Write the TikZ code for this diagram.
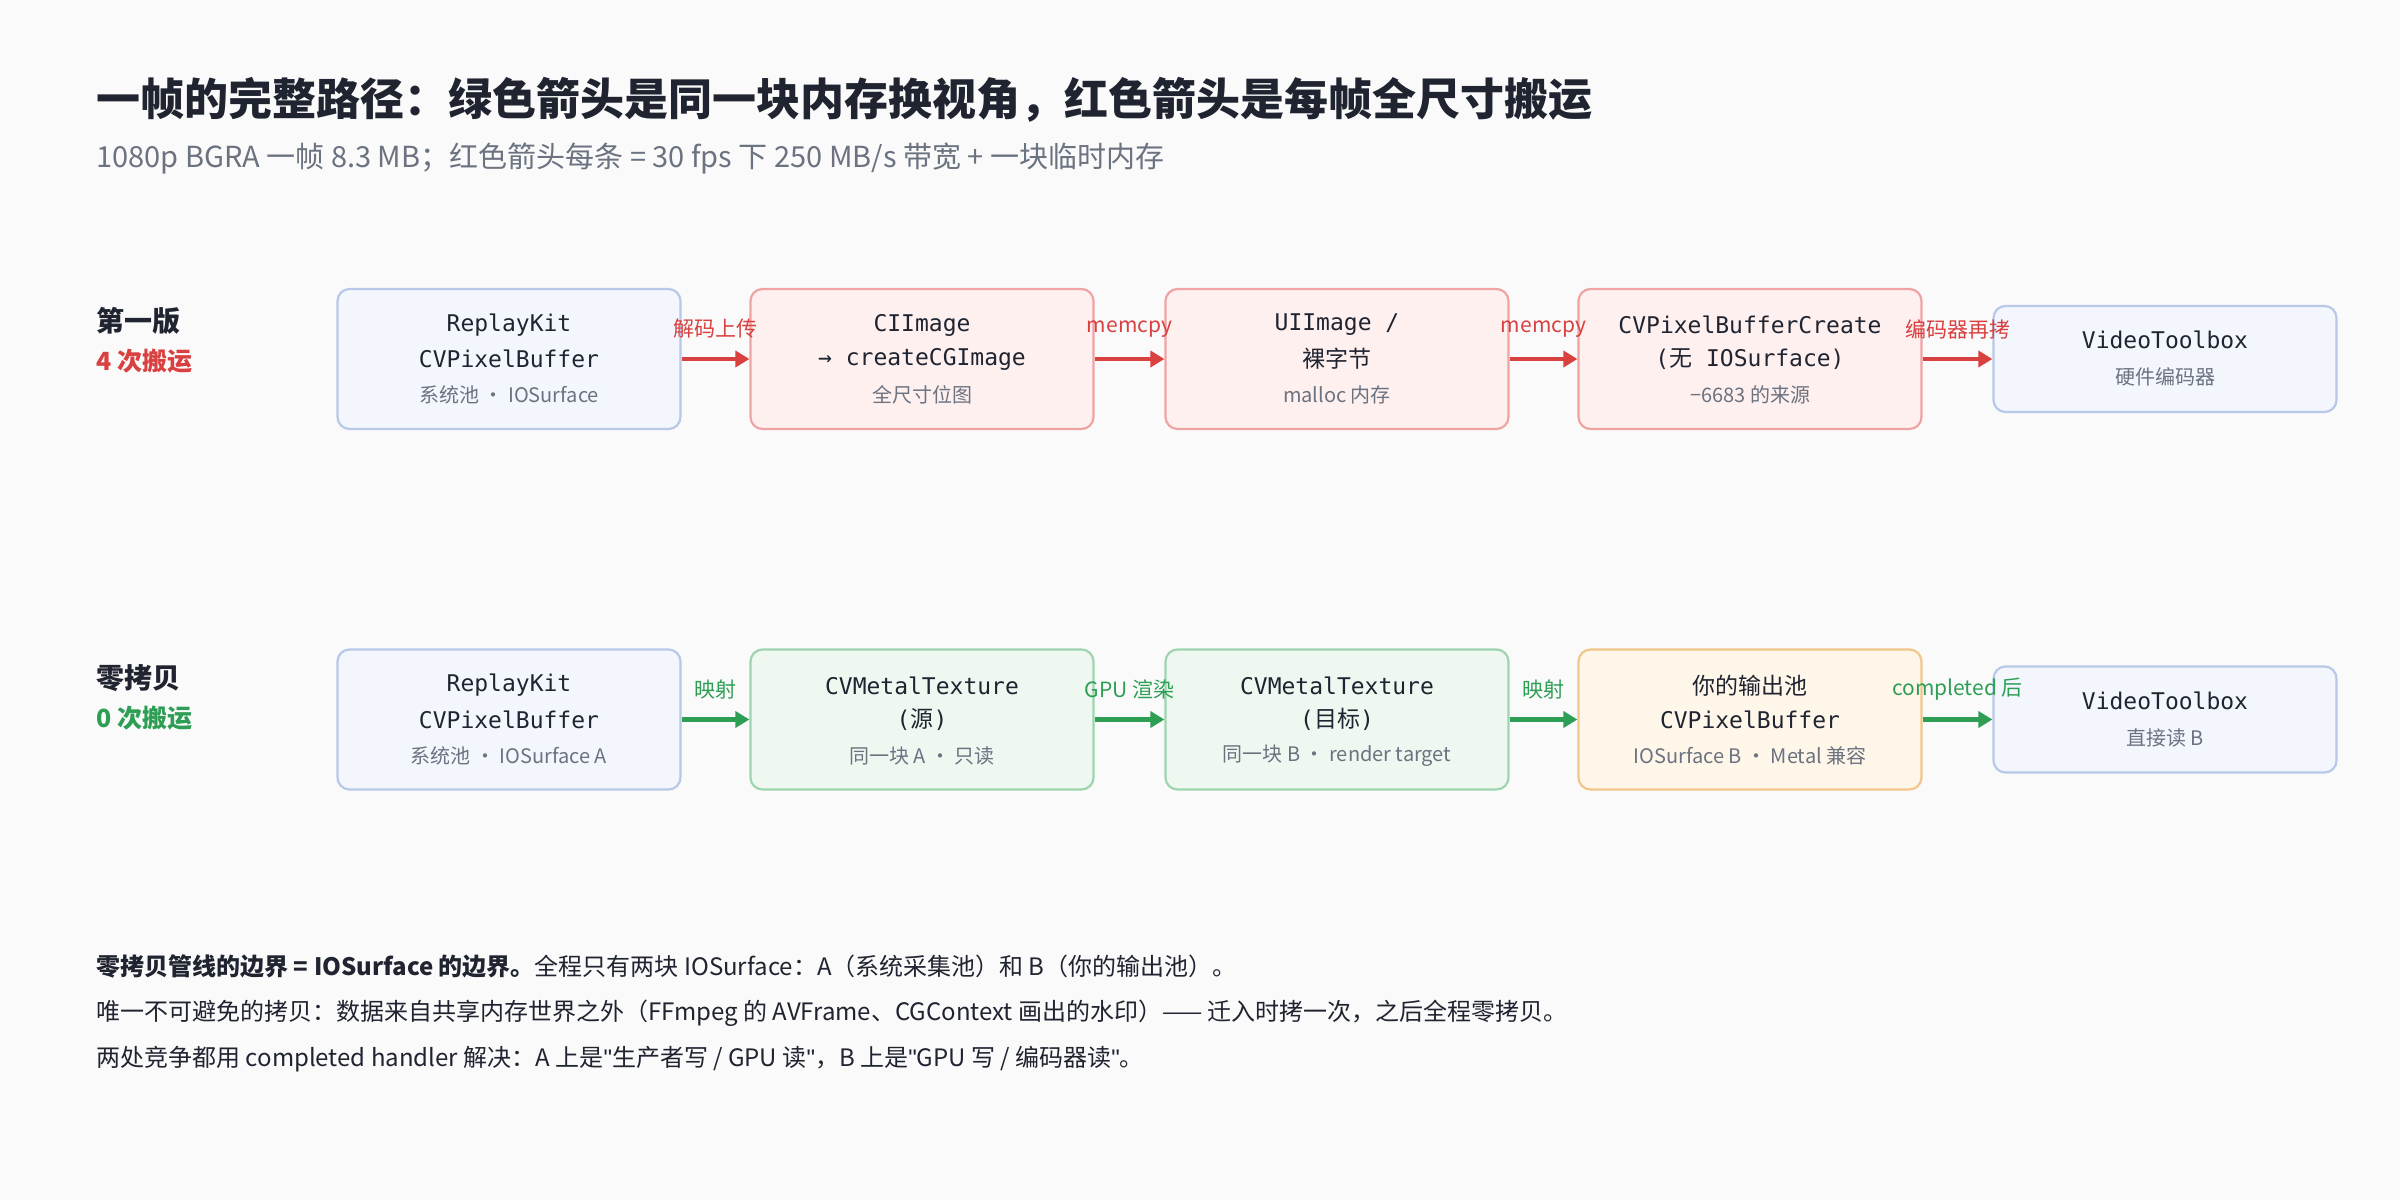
\documentclass[tikz,border=0pt]{standalone}
\usepackage{fontspec}
\setmainfont{Noto Sans CJK SC}
\newfontfamily\mono{DejaVu Sans Mono}
\newfontfamily\qfont{Liberation Sans}
\usetikzlibrary{calc,arrows.meta}
\definecolor{bg}{HTML}{FAFAFA}
\definecolor{ink}{HTML}{1F2430}
\definecolor{gry}{HTML}{6B7280}
\definecolor{bfill}{HTML}{F3F6FC}\definecolor{bline}{HTML}{B8C8E8}
\definecolor{rfill}{HTML}{FFF0F0}\definecolor{rline}{HTML}{F0A3A3}
\definecolor{gfill}{HTML}{EEF8F1}\definecolor{gline}{HTML}{9FD4B0}
\definecolor{ofill}{HTML}{FFF6EA}\definecolor{oline}{HTML}{F2C68A}
\definecolor{rarr}{HTML}{D94040}\definecolor{garr}{HTML}{2E9E55}
\newcommand\dq{{\qfont\char"22}}
\begin{document}
\begin{tikzpicture}[x=0.5pt,y=-0.5pt,
 box/.style={draw,rounded corners=6pt,line width=1.1pt,minimum width=171.5pt,minimum height=70pt,inner sep=0pt},
 short/.style={minimum height=53pt},
 bb/.style={box,fill=bfill,draw=bline},
 rb/.style={box,fill=rfill,draw=rline},
 gb/.style={box,fill=gfill,draw=gline},
 ob/.style={box,fill=ofill,draw=oline},
 mt/.style={text=ink,font=\mono\fontsize{11.5}{13}\selectfont,inner sep=0pt},
 st/.style={text=gry,font=\fontsize{10}{12}\selectfont,inner sep=0pt},
 ra/.style={draw=rarr,line width=2.2pt,-{Triangle[length=7pt,width=8pt]}},
 ga/.style={draw=garr,line width=2.2pt,-{Triangle[length=7pt,width=8pt]}},
 rl/.style={text=rarr,font=\fontsize{10.5}{12}\selectfont,inner sep=0pt},
 gl/.style={text=garr,font=\fontsize{10.5}{12}\selectfont,inner sep=0pt},
 tx/.style={anchor=west,inner sep=0pt,text=ink,font=\fontsize{12}{14}\selectfont}]
\fill[bg] (0,0) rectangle (2400,1200);
\useasboundingbox (0,0) rectangle (2400,1200);
\node[anchor=west,inner sep=0pt,text=ink,font=\bfseries\fontsize{22}{25}\selectfont] (title) at (96,100) {一帧的完整路径：绿色箭头是同一块内存换视角，红色箭头是每帧全尺寸搬运};
\node[anchor=west,inner sep=0pt,text=gry,font=\fontsize{14.5}{17}\selectfont] (sub) at (96,158) {1080p BGRA 一帧 8.3 MB；红色箭头每条 = 30 fps 下 250 MB/s 带宽 + 一块临时内存};
% row labels
\node[tx,font=\bfseries\fontsize{14}{16}\selectfont] (l1) at (96,321) {第一版};
\node[tx,text=rarr,font=\bfseries\fontsize{12.5}{14}\selectfont] (l1b) at (96,361) {4 次搬运};
\node[tx,font=\bfseries\fontsize{14}{16}\selectfont] (l2) at (96,678) {零拷贝};
\node[tx,text=garr,font=\bfseries\fontsize{12.5}{14}\selectfont] (l2b) at (96,718) {0 次搬运};
% row 1
\node[bb] (a1) at (509,359) {};
\node[rb] (a2) at (922,359) {};
\node[rb] (a3) at (1337,359) {};
\node[rb] (a4) at (1750,359) {};
\node[bb,short] (a5) at (2165,359) {};
\node[mt] (a1t) at ($(a1)+(0,-34)$) {ReplayKit};
\node[mt] (a1u) at ($(a1)+(0,0)$) {CVPixelBuffer};
\node[st] (a1s) at ($(a1)+(0,36)$) {系统池 · IOSurface};
\node[mt] (a2t) at ($(a2)+(0,-34)$) {CIImage};
\node[mt] (a2u) at ($(a2)+(0,0)$) {→ createCGImage};
\node[st] (a2s) at ($(a2)+(0,36)$) {全尺寸位图};
\node[mt] (a3t) at ($(a3)+(0,-34)$) {UIImage /};
\node[mt,font=\fontsize{11.5}{13}\selectfont] (a3u) at ($(a3)+(0,0)$) {裸字节};
\node[st] (a3s) at ($(a3)+(0,36)$) {malloc 内存};
\node[mt] (a4t) at ($(a4)+(0,-34)$) {CVPixelBufferCreate};
\node[mt] (a4u) at ($(a4)+(0,0)$) {({\fontsize{11.5}{13}\selectfont\rmfamily 无} IOSurface)};
\node[st] (a4s) at ($(a4)+(0,36)$) {−6683 的来源};
\node[mt] (a5t) at ($(a5)+(0,-19)$) {VideoToolbox};
\node[st] (a5s) at ($(a5)+(0,18)$) {硬件编码器};
\draw[ra] (a1.east) -- (a2.west) node[rl,midway,yshift=15pt] (e1) {解码上传};
\draw[ra] (a2.east) -- (a3.west) node[rl,midway,yshift=15pt] (e2) {memcpy};
\draw[ra] (a3.east) -- (a4.west) node[rl,midway,yshift=15pt] (e3) {memcpy};
\draw[ra] (a4.east) -- (a5.west) node[rl,midway,yshift=15pt] (e4) {编码器再拷};
% row 2
\node[bb] (b1) at (509,719.5) {};
\node[gb] (b2) at (922,719.5) {};
\node[gb] (b3) at (1337,719.5) {};
\node[ob] (b4) at (1750,719.5) {};
\node[bb,short] (b5) at (2165,719.5) {};
\node[mt] (b1t) at ($(b1)+(0,-34)$) {ReplayKit};
\node[mt] (b1u) at ($(b1)+(0,0)$) {CVPixelBuffer};
\node[st] (b1s) at ($(b1)+(0,36)$) {系统池 · IOSurface A};
\node[mt] (b2t) at ($(b2)+(0,-34)$) {CVMetalTexture};
\node[mt] (b2u) at ($(b2)+(0,0)$) {({\rmfamily 源})};
\node[st] (b2s) at ($(b2)+(0,36)$) {同一块 A · 只读};
\node[mt] (b3t) at ($(b3)+(0,-34)$) {CVMetalTexture};
\node[mt] (b3u) at ($(b3)+(0,0)$) {({\rmfamily 目标})};
\node[st] (b3s) at ($(b3)+(0,36)$) {同一块 B · render target};
\node[mt,font=\fontsize{11.5}{13}\selectfont] (b4t) at ($(b4)+(0,-34)$) {你的输出池};
\node[mt] (b4u) at ($(b4)+(0,0)$) {CVPixelBuffer};
\node[st] (b4s) at ($(b4)+(0,36)$) {IOSurface B · Metal 兼容};
\node[mt] (b5t) at ($(b5)+(0,-19)$) {VideoToolbox};
\node[st] (b5s) at ($(b5)+(0,18)$) {直接读 B};
\draw[ga] (b1.east) -- (b2.west) node[gl,midway,yshift=15pt] (f1) {映射};
\draw[ga] (b2.east) -- (b3.west) node[gl,midway,yshift=15pt] (f2) {GPU 渲染};
\draw[ga] (b3.east) -- (b4.west) node[gl,midway,yshift=15pt] (f3) {映射};
\draw[ga] (b4.east) -- (b5.west) node[gl,midway,yshift=15pt] (f4) {completed 后};
% notes
\node[tx] (n1) at (96,966) {\textbf{零拷贝管线的边界 = IOSurface 的边界。}全程只有两块 IOSurface：A（系统采集池）和 B（你的输出池）。};
\node[tx] (n2) at (96,1013) {唯一不可避免的拷贝：数据来自共享内存世界之外（FFmpeg 的 AVFrame、CGContext 画出的水印）—— 迁入时拷一次，之后全程零拷贝。};
\node[tx] (n3) at (96,1059) {两处竞争都用 completed handler 解决：A 上是\dq 生产者写 / GPU 读\dq，B 上是\dq GPU 写 / 编码器读\dq。};
\end{tikzpicture}
\end{document}
